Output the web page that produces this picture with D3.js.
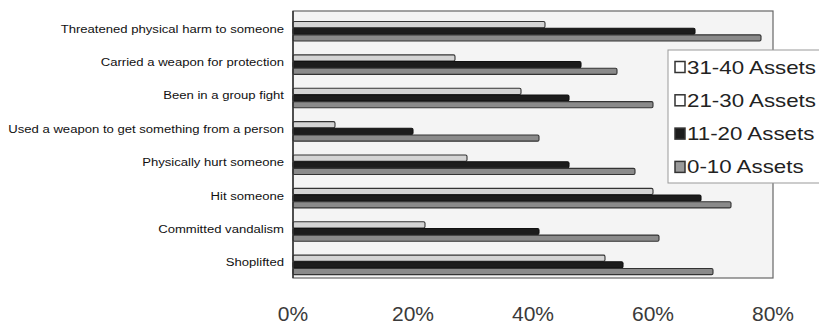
<!DOCTYPE html>
<html><head><meta charset="utf-8">
<script src="https://cdn.jsdelivr.net/npm/d3@7"></script>
<style>body{margin:0;background:#fff}svg{display:block}</style>
</head><body>
<svg id="chart" width="819" height="326"></svg>
<script>
const categories = ["Threatened physical harm to someone","Carried a weapon for protection","Been in a group fight","Used a weapon to get something from a person","Physically hurt someone","Hit someone","Committed vandalism","Shoplifted"];
const seriesNames = ["31-40 Assets","21-30 Assets","11-20 Assets","0-10 Assets"];
const s31_40 = [null,null,null,null,null,null,null,null];
const s21_30 = [42,27,38,7,29,60,22,52];
const s11_20 = [67,48,46,20,46,68,41,55];
const s0_10  = [78,54,60,41,57,73,61,70];
const xTicks = [0,20,40,60,80];
const seriesValues = [s31_40,s21_30,s11_20,s0_10];
const fills = ["#ffffff","#d4d4d4","#1c1c1c","#8a8a8a"];
const strokes = ["#444","#333","#111","#333"];

const svg = d3.select("#chart");
const L=293,R=773,T=11,B=278;
const x = d3.scaleLinear().domain([0,80]).range([L,R]);
const y = d3.scaleBand().domain(categories).range([T,B]).paddingInner(0.2).paddingOuter(0.1);
const yi = d3.scaleBand().domain(seriesNames).range([0,y.bandwidth()]);

svg.append("rect").attr("x",L).attr("y",T).attr("width",R-L).attr("height",B-T)
  .attr("fill","#f4f4f4").attr("stroke","#666").attr("stroke-width",1.2);

const g = svg.append("g");
categories.forEach((c,ci)=>{
  seriesNames.forEach((s,si)=>{
    const v = seriesValues[si][ci];
    if (v==null) return;
    g.append("rect").attr("x",x(0)).attr("y",y(c)+yi(s)+0.5)
      .attr("width",x(v)-x(0)).attr("height",yi.bandwidth()-0.5)
      .attr("rx",1.5)
      .attr("fill",fills[si]).attr("stroke",strokes[si]).attr("stroke-width",1.1);
  });
});

// left axis line
svg.append("line").attr("x1",L).attr("x2",L).attr("y1",T).attr("y2",B).attr("stroke","#333").attr("stroke-width",1.5);

// category labels
svg.append("g").selectAll("text").data(categories).join("text")
  .attr("transform",d=>`translate(284,${y(d)+y.bandwidth()/2+5}) scale(1.31,1)`)
  .attr("text-anchor","end").attr("font-family","Arial, Liberation Sans, sans-serif")
  .attr("font-size",10).attr("fill","#111").text(d=>d);

// x tick labels
svg.append("g").selectAll("text").data(xTicks).join("text")
  .attr("x",d=>x(d)).attr("y",321).attr("text-anchor","middle")
  .attr("font-family","Arial, Liberation Sans, sans-serif").attr("font-size",21)
  .attr("fill","#3a3a3a").text(d=>d+"%");

// legend
const lg = svg.append("g");
lg.append("rect").attr("x",668).attr("y",50).attr("width",160).attr("height",133)
  .attr("fill","#fff").attr("stroke","#999").attr("stroke-width",1);
const legFills = ["#ffffff","#ffffff","#1c1c1c","#9a9a9a"];
seriesNames.forEach((s,i)=>{
  const cy = 67 + i*33.3;
  lg.append("rect").attr("x",675).attr("y",cy-5.5).attr("width",10).attr("height",11)
    .attr("fill",legFills[i]).attr("stroke","#333").attr("stroke-width",1.5);
  lg.append("text").attr("transform",`translate(687,${cy+6.5}) scale(1.24,1)`)
    .attr("font-family","Arial, Liberation Sans, sans-serif").attr("font-size",18)
    .attr("fill","#222").text(s);
});
</script>
</body></html>
